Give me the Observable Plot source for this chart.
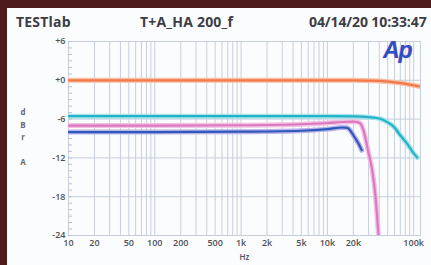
<!DOCTYPE html>
<html><head><meta charset="utf-8">
<script src="https://cdn.jsdelivr.net/npm/d3@7"></script>
<script src="https://cdn.jsdelivr.net/npm/@observablehq/plot@0.6"></script>
<style>
html,body{margin:0;padding:0;background:#4e1b1c;width:431px;height:265px;overflow:hidden;}
#panel{position:absolute;left:7px;top:8px;width:424px;height:257px;background:#fbfcfe;overflow:hidden;font-family:"Open Sans",sans-serif;}
#header{position:relative;height:22px;}
.h{position:absolute;top:5px;font-weight:700;font-size:14px;line-height:17px;letter-spacing:0.2px;color:#3d3d44;white-space:nowrap;}
#ap{position:absolute;left:376px;top:29px;font-family:"Liberation Sans",sans-serif;font-weight:700;font-style:italic;font-size:23px;color:#2d4fc4;text-shadow:0 0 1px #e08ab8;letter-spacing:-1px;}
#ylab{position:absolute;left:11px;top:98px;width:10px;text-align:center;font-weight:700;font-size:8px;line-height:12.5px;color:#6a6a70;}
svg{display:block;}
</style>
</head><body>
<div id="panel">
  <div id="header">
    <span class="h" style="left:9px">TESTlab</span>
    <span class="h" style="left:133px">T+A_HA 200_f</span>
    <span class="h" style="left:302px;letter-spacing:-0.1px">04/14/20 10:33:47</span>
  </div>
  <div id="ap">Ap</div>
  <div id="ylab">d<br>B<br>r<br>&nbsp;<br>A</div>
  <div id="chart"></div>
</div>
<script>
// Frequencies (Hz) and levels (dBrA)
const orangeFreq = [10, 1000, 20000, 40000, 68000, 91000, 115000];
const orangeDb   = [0, 0, 0, -0.1, -0.4, -0.67, -0.93];

const cyanFreq = [10, 1000, 10000, 20000, 30000, 41000, 50000, 59000, 70000, 84000, 100000, 110000];
const cyanDb   = [-5.55, -5.55, -5.55, -5.58, -5.7, -5.95, -6.5, -7.2, -8.5, -9.8, -11.3, -11.95];

const pinkFreq = [10, 100, 1000, 5000, 10000, 15000, 20000, 22000, 24000, 26000, 28000, 30000, 33000, 36000, 39000, 41000];
const pinkDb   = [-7.0, -7.0, -6.95, -6.8, -6.6, -6.45, -6.4, -6.45, -6.65, -7.6, -9.3, -11.2, -13.8, -17.8, -23.7, -28];

const blueFreq = [10, 100, 1000, 5000, 10000, 15000, 17000, 18500, 20000, 23000, 25000];
const blueDb   = [-8.0, -8.0, -7.95, -7.8, -7.55, -7.3, -7.35, -7.8, -8.5, -9.8, -10.8];

const seriesNames  = ["S1", "S2", "S3", "S4"];
const seriesColors = ["#f2784a", "#22b4c6", "#dc78c0", "#2f58bc"];
const seriesHalos  = ["#f8bfa2", "#a8e2ea", "#f2c0e4", "#b8b2e8"];

const xTickValues = [10, 20, 50, 100, 200, 500, 1000, 2000, 5000, 10000, 20000, 100000];
const xTickLabels = ["10", "20", "50", "100", "200", "500", "1k", "2k", "5k", "10k", "20k", "100k"];
const yTickValues = [-24, -18, -12, -6, 0, 6];
const yTickLabels = ["-24", "-18", "-12", "-6", "+0", "+6"];

const freqs = [orangeFreq, cyanFreq, pinkFreq, blueFreq];
const dbs = [orangeDb, cyanDb, pinkDb, blueDb];
const rows = seriesNames.flatMap((s, k) => freqs[k].map((f, i) => ({s, f, db: dbs[k][i]})));

const gridFreqs = [];
for (let d = 10; d <= 100000; d *= 10) for (let m = 1; m <= 9; m++) if (d * m <= 120000) gridFreqs.push(d * m);
const minorY = d3.range(-24, 7, 1);

const grid = "#c6cfdb";
const labelColor = "#4f4f56";

const chart = Plot.plot({
  width: 424, height: 235,
  marginLeft: 61, marginRight: 11, marginTop: 11, marginBottom: 30,
  style: {background: "transparent", fontFamily: "'Open Sans', sans-serif", fontSize: "9px", fontWeight: 600, color: labelColor},
  x: {type: "log", domain: [10, 120000], axis: null},
  y: {domain: [-24, 6], axis: null},
  marks: [
    Plot.ruleX(gridFreqs, {x: d => d, stroke: grid, strokeWidth: 1}),
    Plot.ruleY(yTickValues, {y: d => d, stroke: grid, strokeWidth: 1}),
    Plot.frame({stroke: grid}),
    Plot.tickY(minorY, {y: d => d, frameAnchor: "left", stroke: "#b9c2cf", strokeWidth: 1, insetRight: 348}),
    Plot.text(yTickValues, {y: d => d, text: (d, i) => yTickLabels[i], frameAnchor: "left", textAnchor: "end", dx: -3, fill: labelColor}),
    Plot.text(xTickValues, {x: d => d, text: (d, i) => xTickLabels[i], frameAnchor: "bottom", lineAnchor: "top", dy: 4, fill: labelColor}),
    Plot.text(["Hz"], {text: d => d, frameAnchor: "bottom", lineAnchor: "top", dy: 19, fontSize: 8, fill: labelColor}),
    ...seriesNames.map((s, k) => Plot.line(rows.filter(r => r.s === s), {x: "f", y: "db", stroke: seriesHalos[k], strokeWidth: 5, curve: "monotone-x", clip: true})),
    ...seriesNames.map((s, k) => Plot.line(rows.filter(r => r.s === s), {x: "f", y: "db", stroke: seriesColors[k], strokeWidth: 2.2, curve: "monotone-x", clip: true}))
  ]
});
document.getElementById("chart").appendChild(chart);
</script>
</body></html>
